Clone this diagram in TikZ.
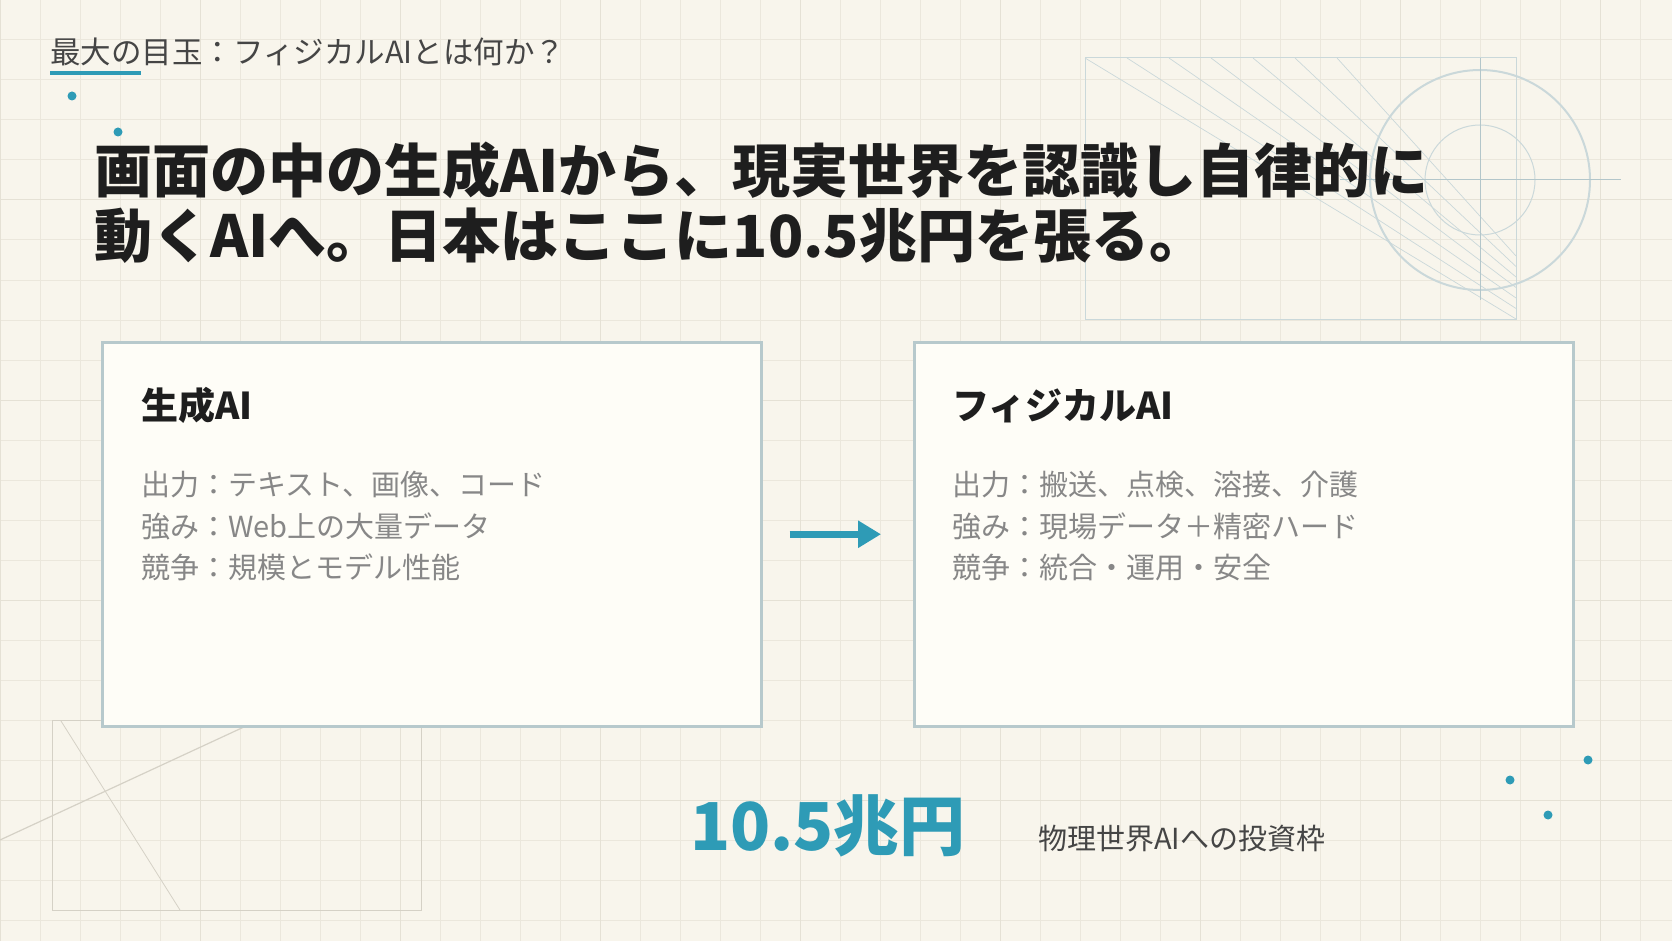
\documentclass[tikz,border=0pt]{standalone}
\usepackage{fontspec}
\usetikzlibrary{arrows.meta}
\newfontfamily\jp{Noto Sans CJK JP}
\definecolor{bg}{HTML}{F8F5EC}
\definecolor{gridminor}{HTML}{EBE7DC}
\definecolor{gridmajor}{HTML}{E5E1D5}
\definecolor{boxfill}{HTML}{FEFDF7}
\definecolor{boxline}{HTML}{B7C9CC}
\definecolor{accent}{HTML}{2E9BB6}
\definecolor{headc}{HTML}{1E1E1E}
\definecolor{titlec}{HTML}{454545}
\definecolor{bodyc}{HTML}{878787}
\definecolor{decoblue}{HTML}{CAD8DA}
\definecolor{decoblue2}{HTML}{B3C6CA}
\definecolor{decogray}{HTML}{D5D1C6}
\tikzset{
  txt/.style={inner sep=0pt, anchor=base west},
  panel/.style={draw=boxline, line width=2.5pt, fill=boxfill, minimum width=659pt, minimum height=384pt, anchor=north west, inner sep=0pt},
  dotc/.style={fill=accent},
}
\begin{document}
\begin{tikzpicture}[x=1pt,y=-1pt]
\useasboundingbox (0,0) rectangle (1672,941);
\fill[bg] (0,0) rectangle (1672,941);
% grid
\foreach \x in {0,40,...,1640} \draw[gridminor, line width=1pt] (\x,0) -- (\x,941);
\foreach \y in {0,40,...,920} \draw[gridminor, line width=1pt] (0,\y) -- (1672,\y);
\foreach \x in {0,200,...,1600} \draw[gridmajor, line width=1pt] (\x,0) -- (\x,941);
\foreach \y in {0,200,...,800} \draw[gridmajor, line width=1pt] (0,\y) -- (1672,\y);
% top-right decoration
\draw[decoblue, line width=1pt] (1085,58) rectangle (1516,319);
\foreach \k in {0,...,6} \draw[decoblue, line width=0.7pt] ({1085+42*\k},58) -- (1516,{319-10.5*\k});
\draw[decoblue, line width=2pt] (1480,180) circle[radius=110pt];
\draw[decoblue, line width=1pt] (1480,180) circle[radius=55pt];
\draw[decoblue2, line width=1pt] (1480,58) -- (1480,300);
\draw[decoblue2, line width=1pt] (1340,180) -- (1621,180);
% bottom-left decoration
\draw[decogray, line width=1pt] (52,720) rectangle (421,910);
\draw[decogray, line width=1.2pt] (0,840) -- (300,701);
\draw[decogray, line width=0.8pt] (61,721) -- (180,910);
% header
\node[txt, font=\jp\fontsize{30.5}{36}\selectfont, text=titlec] (kicker) at (50,64) {最大の目玉：フィジカルAIとは何か？};
\draw[accent, line width=3.5pt] (50,73) -- (141,73);
\fill[dotc] (72,96) circle[radius=4.5pt];
\fill[dotc] (118,132) circle[radius=4.5pt];
\node[txt, font=\jp\bfseries\fontsize{58}{68}\selectfont, text=headc] (head1) at (94,193) {画面の中の生成AIから、現実世界を認識し自律的に};
\node[txt, font=\jp\bfseries\fontsize{58}{68}\selectfont, text=headc] (head2) at (94,258) {動くAIへ。日本はここに10.5兆円を張る。};
% panels
\node[panel] (gen) at (101,341) {};
\node[panel] (phys) at (913,341) {};
\node[txt, font=\jp\bfseries\fontsize{37}{42}\selectfont, text=headc] (gent) at (141,419) {生成AI};
\node[txt, font=\jp\fontsize{29}{34}\selectfont, text=bodyc] (gen1) at (141,495) {出力：テキスト、画像、コード};
\node[txt, font=\jp\fontsize{29}{34}\selectfont, text=bodyc] (gen2) at (141,537) {強み：Web上の大量データ};
\node[txt, font=\jp\fontsize{29}{34}\selectfont, text=bodyc] (gen3) at (141,578) {競争：規模とモデル性能};
\node[txt, font=\jp\bfseries\fontsize{37}{42}\selectfont, text=headc] (physt) at (952,419) {フィジカルAI};
\node[txt, font=\jp\fontsize{29}{34}\selectfont, text=bodyc] (phys1) at (952,495) {出力：搬送、点検、溶接、介護};
\node[txt, font=\jp\fontsize{29}{34}\selectfont, text=bodyc] (phys2) at (952,537) {強み：現場データ＋精密ハード};
\node[txt, font=\jp\fontsize{29}{34}\selectfont, text=bodyc] (phys3) at (952,578) {競争：統合・運用・安全};
\draw[accent, line width=7pt, -{Triangle[length=23pt,width=26pt]}, shorten <=27pt, shorten >=32pt] (gen.east) -- (phys.west);
% bottom figure
\node[txt, font=\jp\bfseries\fontsize{66}{76}\selectfont, text=accent] (amount) at (690,850) {10.5兆円};
\node[txt, font=\jp\fontsize{29}{34}\selectfont, text=titlec] (amountl) at (1038,849) {物理世界AIへの投資枠};
\fill[dotc] (1588,760) circle[radius=4.5pt];
\fill[dotc] (1510,780) circle[radius=4.5pt];
\fill[dotc] (1548,815) circle[radius=4.5pt];
\end{tikzpicture}
\end{document}
